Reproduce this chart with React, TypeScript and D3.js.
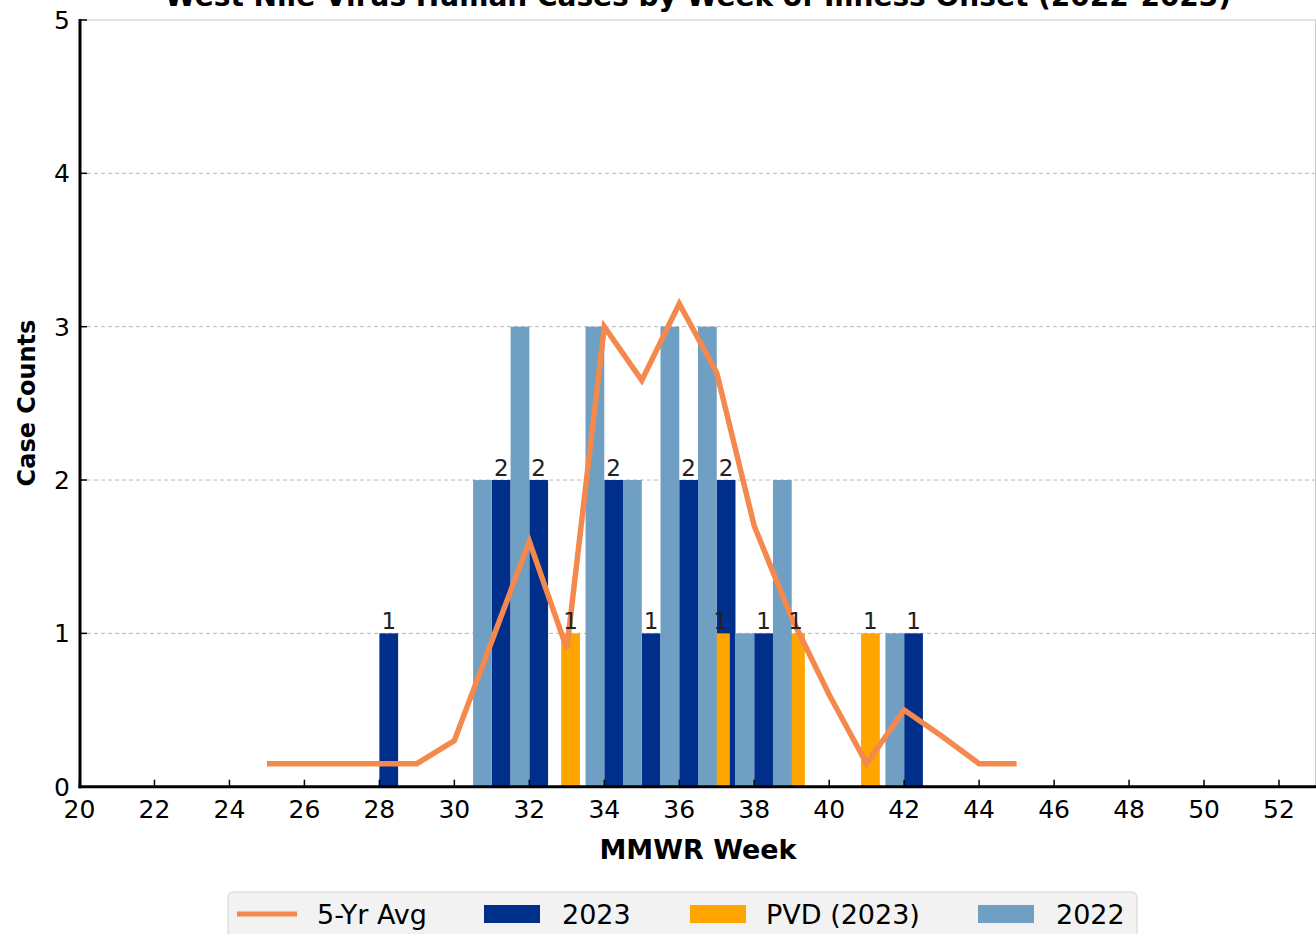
import React from "react";
import * as d3 from "d3";

const title = "West Nile Virus Human Cases by Week of Illness Onset (2022-2023)";
const xLabel = "MMWR Week";
const yLabel = "Case Counts";

const weeks2023 = [28, 31, 32, 34, 35, 36, 37, 38, 42];
const cases2023 = [1, 2, 2, 2, 1, 2, 2, 1, 1];

const weeksPVD = [33, 37, 39, 41];
const casesPVD = [1, 1, 1, 1];

const weeks2022 = [31, 32, 34, 35, 36, 37, 38, 39, 42];
const cases2022 = [2, 3, 3, 2, 3, 3, 1, 2, 1];

const avgWeeks = [25, 26, 27, 28, 29, 30, 31, 32, 33, 34, 35, 36, 37, 38, 39, 40, 41, 42, 43, 44, 45];
const avgValues = [0.15, 0.15, 0.15, 0.15, 0.15, 0.3, 0.95, 1.6, 0.9, 3.0, 2.65, 3.15, 2.7, 1.7, 1.1, 0.6, 0.15, 0.5, 0.33, 0.15, 0.15];

const xTicks = d3.range(20, 53, 2);
const yTicks = [0, 1, 2, 3, 4, 5];
const gridValues = [1, 2, 3, 4];

const legendLabels = ["5-Yr Avg", "2023", "PVD (2023)", "2022"];

const C_2023 = "#002F8B";
const C_PVD = "#FFA500";
const C_2022 = "#6F9FC3";
const C_AVG = "#F4884D";

const FONT = "'DejaVu Sans', sans-serif";

export default function App() {
  const left = 80;
  const right = 1316;
  const top = 20;
  const bottom = 786.7;
  const x = d3.scaleLinear().domain([20, 53]).range([79.5, 1316.5]);
  const y = d3.scaleLinear().domain([0, 5]).range([bottom, top]);
  const bw = x(20.5) - x(20);

  const line = d3
    .line<number>()
    .x((_, i) => x(avgWeeks[i]))
    .y((d) => y(d));

  const bars2023 = weeks2023.map((w, i) => ({ x0: w, v: cases2023[i] }));
  const barsPVD = weeksPVD.map((w, i) => ({ x0: w - 0.15, v: casesPVD[i] }));
  const bars2022 = weeks2022.map((w, i) => ({ x0: w - 0.5, v: cases2022[i] }));

  const legendItems = [
    { type: "line", color: C_AVG, hx: 237, tx: 317 },
    { type: "patch", color: C_2023, hx: 484, tx: 562 },
    { type: "patch", color: C_PVD, hx: 690, tx: 766 },
    { type: "patch", color: C_2022, hx: 978, tx: 1056 },
  ];

  return (
    <svg
      width={1316}
      height={934}
      style={{ position: "absolute", left: 0, top: 0, background: "#fff" }}
      fontFamily={FONT}
    >
      <rect x={0} y={0} width={1316} height={934} fill="#fff" />
      {/* title */}
      <text x={698} y={6} textAnchor="middle" fontSize={28} fontWeight="bold" fill="#000">
        {title}
      </text>

      {/* grid */}
      {gridValues.map((g) => (
        <line
          key={"g" + g}
          x1={left}
          x2={right}
          y1={y(g)}
          y2={y(g)}
          stroke="#b8b8b8"
          strokeWidth={1}
          strokeDasharray="4,3"
        />
      ))}

      {/* bars */}
      {bars2023.map((b, i) => (
        <rect key={"a" + i} x={x(b.x0)} y={y(b.v)} width={bw} height={y(0) - y(b.v)} fill={C_2023} />
      ))}
      {barsPVD.map((b, i) => (
        <rect key={"p" + i} x={x(b.x0)} y={y(b.v)} width={bw} height={y(0) - y(b.v)} fill={C_PVD} />
      ))}
      {bars2022.map((b, i) => (
        <rect key={"b" + i} x={x(b.x0)} y={y(b.v)} width={bw} height={y(0) - y(b.v)} fill={C_2022} />
      ))}

      {/* 5-yr avg line */}
      <path d={line(avgValues) || ""} fill="none" stroke={C_AVG} strokeWidth={5.5} />

      {/* bar labels */}
      {bars2023.map((b, i) => (
        <text
          key={"la" + i}
          x={x(b.x0 + 0.25)}
          y={y(b.v) - 4}
          textAnchor="middle"
          fontSize={23}
          fill="#222"
        >
          {b.v}
        </text>
      ))}
      {barsPVD.map((b, i) => (
        <text
          key={"lp" + i}
          x={x(b.x0 + 0.25)}
          y={y(b.v) - 4}
          textAnchor="middle"
          fontSize={23}
          fill="#222"
        >
          {b.v}
        </text>
      ))}

      {/* spines */}
      <line x1={left} x2={right} y1={top} y2={top} stroke="#c8c8c8" strokeWidth={1} />
      <line x1={right - 0.5} x2={right - 0.5} y1={top} y2={bottom} stroke="#c8c8c8" strokeWidth={1} />
      <line x1={left} x2={left} y1={top - 1} y2={bottom + 1.5} stroke="#000" strokeWidth={3} />
      <line x1={left - 1.5} x2={right} y1={bottom} y2={bottom} stroke="#000" strokeWidth={3} />

      {/* x ticks */}
      {xTicks.map((t) => (
        <g key={"xt" + t}>
          <line x1={x(t)} x2={x(t)} y1={bottom} y2={bottom - 7} stroke="#000" strokeWidth={1.5} />
          <text x={x(t)} y={818} textAnchor="middle" fontSize={25} fill="#000">
            {t}
          </text>
        </g>
      ))}
      {/* y ticks */}
      {yTicks.map((t) => (
        <g key={"yt" + t}>
          <line x1={left} x2={left + 7} y1={y(t)} y2={y(t)} stroke="#000" strokeWidth={1.5} />
          <text x={70} y={y(t) + 9} textAnchor="end" fontSize={25} fill="#000">
            {t}
          </text>
        </g>
      ))}

      {/* axis labels */}
      <text x={698} y={859} textAnchor="middle" fontSize={27} fontWeight="bold" fill="#000">
        {xLabel}
      </text>
      <text
        transform={`translate(35, 403) rotate(-90)`}
        textAnchor="middle"
        fontSize={24}
        fontWeight="bold"
        fill="#000"
      >
        {yLabel}
      </text>

      {/* legend */}
      <rect x={228} y={892} width={909} height={60} rx={5} fill="#f2f2f2" stroke="#d4d4d4" strokeWidth={1} />
      {legendItems.map((it, i) => (
        <g key={"lg" + i}>
          {it.type === "line" ? (
            <line x1={it.hx} x2={it.hx + 60} y1={914} y2={914} stroke={it.color} strokeWidth={5} />
          ) : (
            <rect x={it.hx} y={905} width={56} height={18} fill={it.color} />
          )}
          <text x={it.tx} y={924} fontSize={27} fill="#000">
            {legendLabels[i]}
          </text>
        </g>
      ))}
    </svg>
  );
}
